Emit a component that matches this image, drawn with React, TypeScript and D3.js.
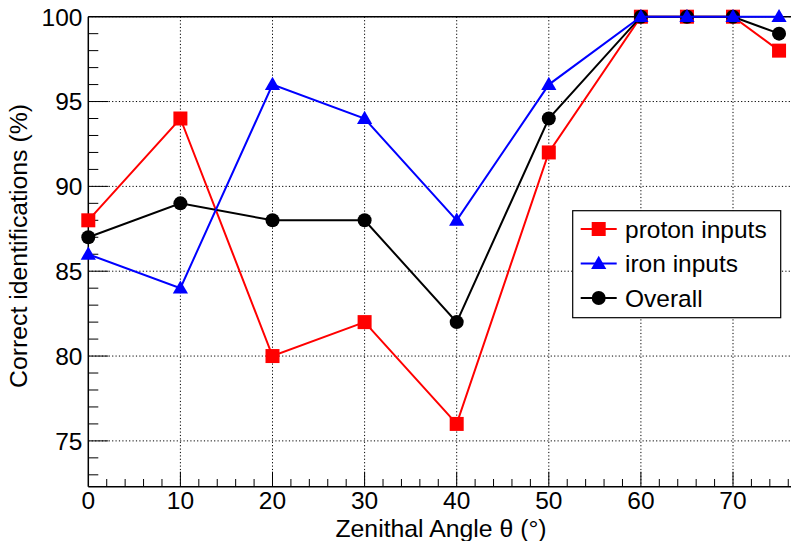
import React, { useRef, useEffect } from 'react';
import { select, scaleLinear, line, range, symbol, symbolTriangle } from 'd3';

const angles = [0, 10, 20, 30, 40, 50, 60, 65, 70, 75];
const protonValues = [88, 94, 80, 82, 76, 92, 100, 100, 100, 98];
const ironValues = [86, 84, 96, 94, 88, 96, 100, 100, 100, 100];
const overallValues = [87, 89, 88, 88, 82, 94, 100, 100, 100, 99];

const seriesNames = ['proton inputs', 'iron inputs', 'Overall'];
const xTickLabels = ['0', '10', '20', '30', '40', '50', '60', '70'];
const yTickLabels = ['75', '80', '85', '90', '95', '100'];

const FONT = '"Liberation Sans", Arial, Helvetica, sans-serif';

function App() {
  const svgRef = useRef(null);

  useEffect(() => {
    const svg = select(svgRef.current);
    svg.selectAll('*').remove();

    const left = 88.3;
    const bottom = 486.7;
    const top = 16.7;

    const xScale = scaleLinear().domain([0, 78]).range([left, left + 78 * 9.21]);
    const yScale = scaleLinear().domain([72.3, 100]).range([bottom, top]);
    const xEnd = xScale(78);

    // grid
    const grid = svg.append('g')
      .attr('stroke', '#000')
      .attr('stroke-width', 1)
      .attr('stroke-dasharray', '1.2,2.2');
    xTickLabels.forEach((t) => {
      const x = xScale(+t);
      if (+t === 0) return;
      grid.append('line').attr('x1', x).attr('x2', x).attr('y1', top).attr('y2', bottom);
    });
    yTickLabels.forEach((t) => {
      const y = yScale(+t);
      grid.append('line').attr('x1', left).attr('x2', xEnd).attr('y1', y).attr('y2', y);
    });

    // frame / axes
    const axes = svg.append('g').attr('stroke', '#000').attr('stroke-width', 1.5);
    axes.append('line').attr('x1', left).attr('x2', left).attr('y1', top).attr('y2', bottom);
    axes.append('line').attr('x1', left).attr('x2', xEnd).attr('y1', bottom).attr('y2', bottom);
    axes.append('line').attr('x1', left).attr('x2', xEnd).attr('y1', top).attr('y2', top);

    // y ticks
    range(73, 100).forEach((v) => {
      const major = v % 5 === 0;
      axes.append('line')
        .attr('stroke-width', 1)
        .attr('x1', left).attr('x2', left + (major ? 20 : 10))
        .attr('y1', yScale(v)).attr('y2', yScale(v));
    });
    // x ticks
    range(2, 78, 2).forEach((v) => {
      const major = v % 10 === 0;
      axes.append('line')
        .attr('stroke-width', 1)
        .attr('x1', xScale(v)).attr('x2', xScale(v))
        .attr('y1', bottom).attr('y2', bottom - (major ? 15 : 7.7));
    });

    // tick labels
    svg.selectAll('.ylab')
      .data(yTickLabels)
      .join('text')
      .attr('class', 'ylab')
      .attr('x', 82.5)
      .attr('y', (d) => yScale(+d) + 8.8)
      .attr('text-anchor', 'end')
      .attr('font-family', FONT)
      .attr('font-size', 24.5)
      .text((d) => d);

    svg.selectAll('.xlab')
      .data(xTickLabels)
      .join('text')
      .attr('class', 'xlab')
      .attr('x', (d) => xScale(+d))
      .attr('y', 509)
      .attr('text-anchor', 'middle')
      .attr('font-family', FONT)
      .attr('font-size', 24.5)
      .text((d) => d);

    // axis titles
    svg.append('text')
      .attr('x', 441)
      .attr('y', 536.5)
      .attr('text-anchor', 'middle')
      .attr('font-family', FONT)
      .attr('font-size', 24.8)
      .text('Zenithal Angle θ (°)');

    svg.append('text')
      .attr('transform', 'translate(27,246) rotate(-90)')
      .attr('text-anchor', 'middle')
      .attr('font-family', FONT)
      .attr('font-size', 24.8)
      .text('Correct identifications (%)');

    const tri = symbol().type(symbolTriangle).size(100);
    const drawMarker = (g, kind, color, x, y) => {
      if (kind === 'square') {
        g.append('rect').attr('x', x - 7).attr('y', y - 7)
          .attr('width', 14).attr('height', 14).attr('fill', color);
      } else if (kind === 'circle') {
        g.append('circle').attr('cx', x).attr('cy', y).attr('r', 7).attr('fill', color);
      } else {
        g.append('path').attr('d', tri()).attr('transform', `translate(${x},${y + 1})`)
          .attr('fill', color);
      }
    };

    const series = [
      { values: protonValues, color: '#ff0000', kind: 'square' },
      { values: overallValues, color: '#000000', kind: 'circle' },
      { values: ironValues, color: '#0000ff', kind: 'triangle' },
    ];

    const lineGen = line()
      .x((d) => xScale(d[0]))
      .y((d) => yScale(d[1]));

    series.forEach((s) => {
      const g = svg.append('g');
      const pts = angles.map((a, i) => [a, s.values[i]]);
      g.append('path')
        .attr('d', lineGen(pts))
        .attr('fill', 'none')
        .attr('stroke', s.color)
        .attr('stroke-width', 2);
      pts.forEach((p) => drawMarker(g, s.kind, s.color, xScale(p[0]), yScale(p[1])));
    });

    // legend
    const legend = svg.append('g');
    legend.append('rect')
      .attr('x', 572.7).attr('y', 210.7)
      .attr('width', 208).attr('height', 107)
      .attr('fill', '#fff')
      .attr('stroke', '#000')
      .attr('stroke-width', 1.2);
    const legendItems = [
      { name: seriesNames[0], color: '#ff0000', kind: 'square' },
      { name: seriesNames[1], color: '#0000ff', kind: 'triangle' },
      { name: seriesNames[2], color: '#000000', kind: 'circle' },
    ];
    legendItems.forEach((item, i) => {
      const cy = 229 + i * 34.5;
      legend.append('line')
        .attr('x1', 580.7).attr('x2', 616.7)
        .attr('y1', cy).attr('y2', cy)
        .attr('stroke', item.color).attr('stroke-width', 2);
      drawMarker(legend, item.kind, item.color, 598.7, cy);
      legend.append('text')
        .attr('x', 625)
        .attr('y', cy + 8.5)
        .attr('font-family', FONT)
        .attr('font-size', 24.5)
        .text(item.name);
    });
  }, []);

  return (
    <div className='root'>
      <svg
        ref={svgRef}
        width={791}
        height={541}
        style={{ position: 'absolute', left: 0, top: 0, background: '#fff' }}
      ></svg>
    </div>
  );
}

export default App;
